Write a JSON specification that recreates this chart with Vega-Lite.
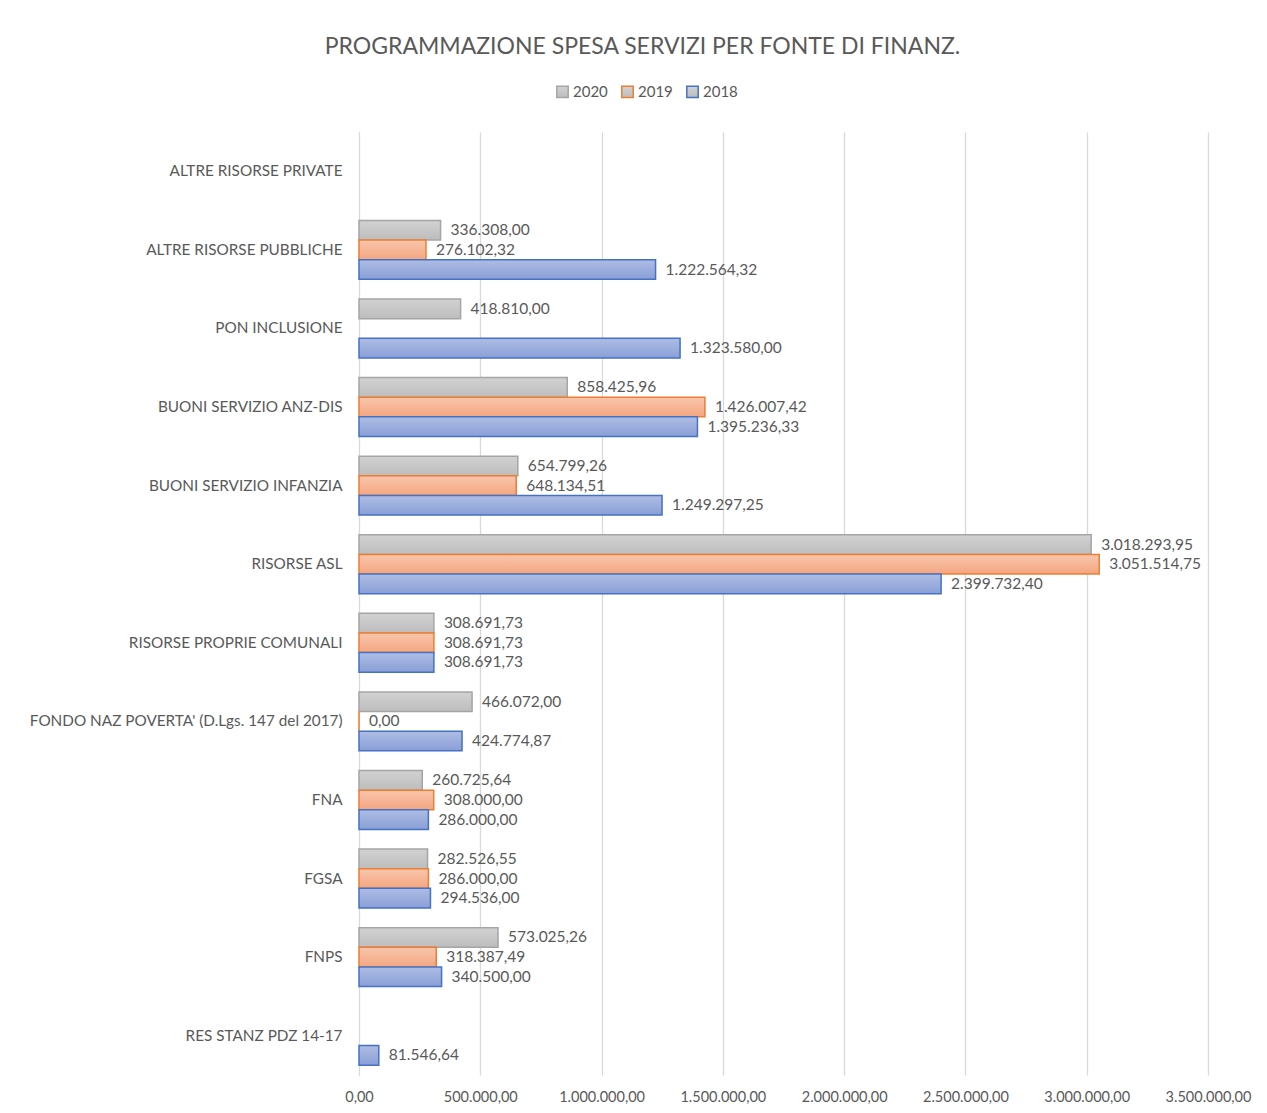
{
  "$schema": "https://vega.github.io/schema/vega-lite/v6.json",
  "autosize": {"type": "none"},
  "width": 849,
  "height": 943,
  "padding": {"left": 359, "top": 132, "right": 59, "bottom": 38},
  "background": "white",
  "config": {
    "locale": {"number": {"decimal": ",", "thousands": ".", "grouping": [3], "currency": ["", " €"]}},
    "font": "Lato",
    "view": {"stroke": null},
    "axis": {"labelColor": "#595959", "labelFont": "Lato", "labelFontSize": 15, "titleColor": "#595959"}
  },
  "title": {
    "text": "PROGRAMMAZIONE  SPESA  SERVIZI  PER  FONTE  DI  FINANZ.",
    "fontSize": 23,
    "font": "Lato",
    "fontWeight": "normal",
    "color": "#595959",
    "anchor": "middle",
    "dx": -141,
    "offset": 25
  },
  "data": {
    "values": [
      {"cat": "ALTRE RISORSE PUBBLICHE", "year": "2020", "value": 336308.00},
      {"cat": "ALTRE RISORSE PUBBLICHE", "year": "2019", "value": 276102.32},
      {"cat": "ALTRE RISORSE PUBBLICHE", "year": "2018", "value": 1222564.32},
      {"cat": "PON INCLUSIONE", "year": "2020", "value": 418810.00},
      {"cat": "PON INCLUSIONE", "year": "2018", "value": 1323580.00},
      {"cat": "BUONI SERVIZIO ANZ-DIS", "year": "2020", "value": 858425.96},
      {"cat": "BUONI SERVIZIO ANZ-DIS", "year": "2019", "value": 1426007.42},
      {"cat": "BUONI SERVIZIO ANZ-DIS", "year": "2018", "value": 1395236.33},
      {"cat": "BUONI SERVIZIO INFANZIA", "year": "2020", "value": 654799.26},
      {"cat": "BUONI SERVIZIO INFANZIA", "year": "2019", "value": 648134.51},
      {"cat": "BUONI SERVIZIO INFANZIA", "year": "2018", "value": 1249297.25},
      {"cat": "RISORSE ASL", "year": "2020", "value": 3018293.95},
      {"cat": "RISORSE ASL", "year": "2019", "value": 3051514.75},
      {"cat": "RISORSE ASL", "year": "2018", "value": 2399732.40},
      {"cat": "RISORSE PROPRIE COMUNALI", "year": "2020", "value": 308691.73},
      {"cat": "RISORSE PROPRIE COMUNALI", "year": "2019", "value": 308691.73},
      {"cat": "RISORSE PROPRIE COMUNALI", "year": "2018", "value": 308691.73},
      {"cat": "FONDO NAZ POVERTA' (D.Lgs. 147 del 2017)", "year": "2020", "value": 466072.00},
      {"cat": "FONDO NAZ POVERTA' (D.Lgs. 147 del 2017)", "year": "2019", "value": 0},
      {"cat": "FONDO NAZ POVERTA' (D.Lgs. 147 del 2017)", "year": "2018", "value": 424774.87},
      {"cat": "FNA", "year": "2020", "value": 260725.64},
      {"cat": "FNA", "year": "2019", "value": 308000.00},
      {"cat": "FNA", "year": "2018", "value": 286000.00},
      {"cat": "FGSA", "year": "2020", "value": 282526.55},
      {"cat": "FGSA", "year": "2019", "value": 286000.00},
      {"cat": "FGSA", "year": "2018", "value": 294536.00},
      {"cat": "FNPS", "year": "2020", "value": 573025.26},
      {"cat": "FNPS", "year": "2019", "value": 318387.49},
      {"cat": "FNPS", "year": "2018", "value": 340500.00},
      {"cat": "RES STANZ PDZ 14-17", "year": "2018", "value": 81546.64}
    ]
  },
  "encoding": {
    "y": {
      "field": "cat", "type": "nominal", "title": null,
      "scale": {
        "domain": ["ALTRE RISORSE PRIVATE", "ALTRE RISORSE PUBBLICHE", "PON INCLUSIONE", "BUONI SERVIZIO ANZ-DIS", "BUONI SERVIZIO INFANZIA", "RISORSE ASL", "RISORSE PROPRIE COMUNALI", "FONDO NAZ POVERTA' (D.Lgs. 147 del 2017)", "FNA", "FGSA", "FNPS", "RES STANZ PDZ 14-17"],
        "paddingInner": 0.25, "paddingOuter": 0.125
      },
      "axis": {"domain": true, "domainColor": "#d9d9d9", "ticks": false, "labelPadding": 17, "labelLimit": 400, "labelFontSize": 15.3}
    },
    "yOffset": {
      "field": "year", "type": "nominal",
      "scale": {"domain": ["2020", "2019", "2018"], "paddingInner": 0, "paddingOuter": 0}
    },
    "x": {
      "field": "value", "type": "quantitative", "title": null,
      "scale": {"domain": [0, 3500000], "nice": false},
      "axis": {
        "values": [0, 500000, 1000000, 1500000, 2000000, 2500000, 3000000, 3500000],
        "format": ",.2f", "domain": false, "ticks": false, "labelPadding": 15,
        "labelOverlap": false, "labelFlush": false, "labelFontSize": 14.5, "labelBound": false,
        "gridColor": "#d9d9d9", "gridWidth": 1.3
      }
    }
  },
  "layer": [
    {
      "transform": [{"filter": "datum.year === '2020'"}],
      "mark": {"type": "bar", "strokeWidth": 1.5,
        "fill": {"gradient": "linear", "x1": 0, "y1": 0, "x2": 0, "y2": 1, "stops": [{"offset": 0, "color": "#d2d2d2"}, {"offset": 1, "color": "#bdbdbd"}]}},
      "encoding": {"stroke": {"field": "year", "type": "nominal", "title": null,
        "scale": {"domain": ["2020", "2019", "2018"], "range": ["#a5a5a5", "#ed7d31", "#4472c4"]},
        "legend": {"orient": "none", "legendX": 196, "legendY": -48, "direction": "horizontal", "symbolType": "square", "symbolSize": 130, "symbolStrokeWidth": 1.5, "labelFontSize": 15, "labelColor": "#595959", "labelFont": "Lato", "columnPadding": 10, "labelOffset": 3,
          "encode": {"symbols": {"update": {"fill": {"scale": "stroke", "field": "value"}, "fillOpacity": {"value": 0.5}}}}}}}
    },
    {
      "transform": [{"filter": "datum.year === '2019'"}],
      "mark": {"type": "bar", "strokeWidth": 1.5,
        "fill": {"gradient": "linear", "x1": 0, "y1": 0, "x2": 0, "y2": 1, "stops": [{"offset": 0, "color": "#f9c6ad"}, {"offset": 1, "color": "#f3a680"}]}},
      "encoding": {"stroke": {"field": "year", "type": "nominal"}}
    },
    {
      "transform": [{"filter": "datum.year === '2018'"}],
      "mark": {"type": "bar", "strokeWidth": 1.5,
        "fill": {"gradient": "linear", "x1": 0, "y1": 0, "x2": 0, "y2": 1, "stops": [{"offset": 0, "color": "#aebde4"}, {"offset": 1, "color": "#8a9fd7"}]}},
      "encoding": {"stroke": {"field": "year", "type": "nominal"}}
    },
    {
      "mark": {"type": "text", "align": "left", "baseline": "middle", "dx": 10, "fontSize": 15.5, "font": "Lato", "color": "#595959"},
      "encoding": {"text": {"field": "value", "type": "quantitative", "format": ",.2f"}}
    }
  ]
}
